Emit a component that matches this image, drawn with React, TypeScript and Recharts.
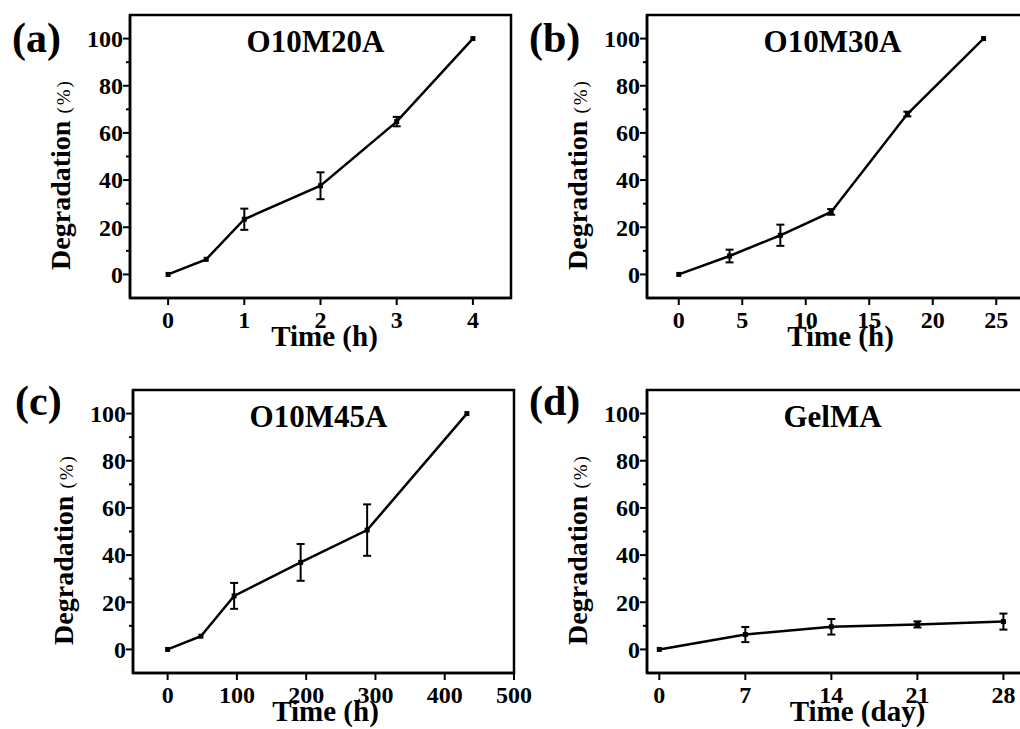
import React from 'react';
import { LineChart, Line, XAxis, YAxis, ErrorBar, ReferenceArea } from 'recharts';

// ---------- data ----------
const yTicks = [0, 10, 20, 30, 40, 50, 60, 70, 80, 90, 100];

const aTime = [0, 0.5, 1, 2, 3, 4];
const aDeg = [0, 6.4, 23.4, 37.6, 64.8, 100];
const aErr = [0, 0, 4.5, 5.7, 2.0, 0];
const aTicks = [0, 1, 2, 3, 4];

const bTime = [0, 4, 8, 12, 18, 24];
const bDeg = [0, 7.8, 16.6, 26.5, 68, 100];
const bErr = [0, 2.7, 4.5, 1.2, 1.0, 0];
const bTicks = [0, 5, 10, 15, 20, 25];

const cTime = [0, 48, 96, 192, 288, 432];
const cDeg = [0, 5.6, 22.7, 36.9, 50.6, 100];
const cErr = [0, 0, 5.5, 7.8, 10.9, 0];
const cTicks = [0, 100, 200, 300, 400, 500];

const dTime = [0, 7, 14, 21, 28];
const dDeg = [0, 6.3, 9.6, 10.6, 11.8];
const dErr = [0, 3.2, 3.3, 1.3, 3.4];
const dTicks = [0, 7, 14, 21, 28];

// ---------- layout ----------
const FONT = "'Liberation Serif', 'Times New Roman', serif";
const YW = 130;
const TM = 15;
const PW = 381;
const PH = 283;
const XH = 80;
const RM = 30;

const YTick = (props: any) => {
  const { x, y, payload } = props;
  const major = payload.value % 20 === 0;
  return (
    <g>
      <line x1={x - (major ? 7 : 4)} x2={x} y1={y} y2={y} stroke="#000" strokeWidth={2} />
      {major && (
        <text
          x={x - 7}
          y={y}
          dy="0.35em"
          textAnchor="end"
          fontFamily={FONT}
          fontWeight="bold"
          fontSize={24}
          fill="#000"
        >
          {payload.value}
        </text>
      )}
    </g>
  );
};

const renderDot = (p: any) => (
  <rect key={`dot-${p.index}`} x={p.cx - 2.5} y={p.cy - 2.5} width={5} height={5} fill="#000" />
);

type PanelProps = {
  left: number;
  top: number;
  time: number[];
  deg: number[];
  err: number[];
  xDomain: [number, number];
  xTicks: number[];
  title: string;
  letter: string;
  letterDy: number;
  xLabel: string;
  xLabelDx: number;
};

function Panel({ left, top, time, deg, err, xDomain, xTicks, title, letter, letterDy, xLabel, xLabelDx }: PanelProps) {
  const data = time.map((t, i) => ({ t, v: deg[i], e: err[i] }));
  return (
    <div style={{ position: 'absolute', left: left - YW, top: top - TM }}>
      <LineChart
        width={YW + PW + RM}
        height={TM + PH + XH}
        data={data}
        margin={{ top: TM, right: RM, bottom: 0, left: 0 }}
      >
        <XAxis
          type="number"
          dataKey="t"
          domain={xDomain}
          ticks={xTicks}
          interval={0}
          allowDataOverflow
          height={XH}
          tickSize={7}
          tickMargin={6}
          tickLine={{ stroke: '#000', strokeWidth: 2 }}
          axisLine={{ stroke: '#000', strokeWidth: 2.5 }}
          tick={{ fill: '#000', fontSize: 24, fontFamily: FONT, fontWeight: 'bold' }}
          label={{
            content: (lp: any) => {
              const vb = lp.viewBox;
              return (
                <text
                  x={vb.x + vb.width / 2 + xLabelDx}
                  y={vb.y + 48}
                  textAnchor="middle"
                  fontFamily={FONT}
                  fontWeight="bold"
                  fontSize={29}
                  fill="#000"
                >
                  {xLabel}
                </text>
              );
            },
          }}
        />
        <YAxis
          type="number"
          domain={[-10, 110]}
          ticks={yTicks}
          interval={0}
          width={YW}
          tickLine={false}
          tickSize={0}
          tickMargin={0}
          tick={<YTick />}
          axisLine={{ stroke: '#000', strokeWidth: 2.5 }}
          label={{
            content: (lp: any) => {
              const vb = lp.viewBox;
              const bx = vb.x + vb.width - 60;
              const cy = vb.y + vb.height / 2 + 18;
              return (
                <text
                  x={bx}
                  y={cy}
                  transform={`rotate(-90, ${bx}, ${cy})`}
                  textAnchor="middle"
                  fontFamily={FONT}
                  fill="#000"
                >
                  <tspan fontWeight="bold" fontSize={28}>Degradation </tspan>
                  <tspan fontSize={19} letterSpacing={2}>(%)</tspan>
                </text>
              );
            },
          }}
        />
        <ReferenceArea
          x1={xDomain[0]}
          x2={xDomain[1]}
          y1={-10}
          y2={110}
          fill="none"
          fillOpacity={0}
          stroke="#000"
          strokeWidth={2.5}
          ifOverflow="visible"
          label={{
            content: (lp: any) => {
              const vb = lp.viewBox;
              return (
                <g>
                  <text
                    x={vb.x + vb.width / 2 - 5}
                    y={vb.y + 37}
                    textAnchor="middle"
                    fontFamily={FONT}
                    fontWeight="bold"
                    fontSize={31}
                    fill="#000"
                  >
                    {title}
                  </text>
                  <text
                    x={vb.x - 118}
                    y={vb.y + letterDy}
                    textAnchor="start"
                    fontFamily={FONT}
                    fontWeight="bold"
                    fontSize={42}
                    fill="#000"
                  >
                    {letter}
                  </text>
                </g>
              );
            },
          }}
        />
        <Line
          type="linear"
          dataKey="v"
          stroke="#000"
          strokeWidth={2.5}
          dot={renderDot}
          activeDot={false}
          isAnimationActive={false}
        >
          <ErrorBar dataKey="e" direction="y" width={4} stroke="#000" strokeWidth={2} />
        </Line>
      </LineChart>
    </div>
  );
}

export default function App() {
  return (
    <div
      style={{
        position: 'fixed',
        left: 0,
        top: 0,
        width: 1020,
        height: 729,
        overflow: 'hidden',
        background: '#fff',
      }}
    >
      <Panel left={130} top={15} time={aTime} deg={aDeg} err={aErr} xDomain={[-0.5, 4.5]} xTicks={aTicks}
        title="O10M20A" letter="(a)" letterDy={37} xLabel="Time (h)" xLabelDx={4} />
      <Panel left={647} top={15} time={bTime} deg={bDeg} err={bErr} xDomain={[-2.5, 27.5]} xTicks={bTicks}
        title="O10M30A" letter="(b)" letterDy={37} xLabel="Time (h)" xLabelDx={3} />
      <Panel left={133} top={390} time={cTime} deg={cDeg} err={cErr} xDomain={[-50, 500]} xTicks={cTicks}
        title="O10M45A" letter="(c)" letterDy={25} xLabel="Time (h)" xLabelDx={2} />
      <Panel left={647} top={390} time={dTime} deg={dDeg} err={dErr} xDomain={[-1, 30]} xTicks={dTicks}
        title="GelMA" letter="(d)" letterDy={25} xLabel="Time (day)" xLabelDx={20} />
    </div>
  );
}
